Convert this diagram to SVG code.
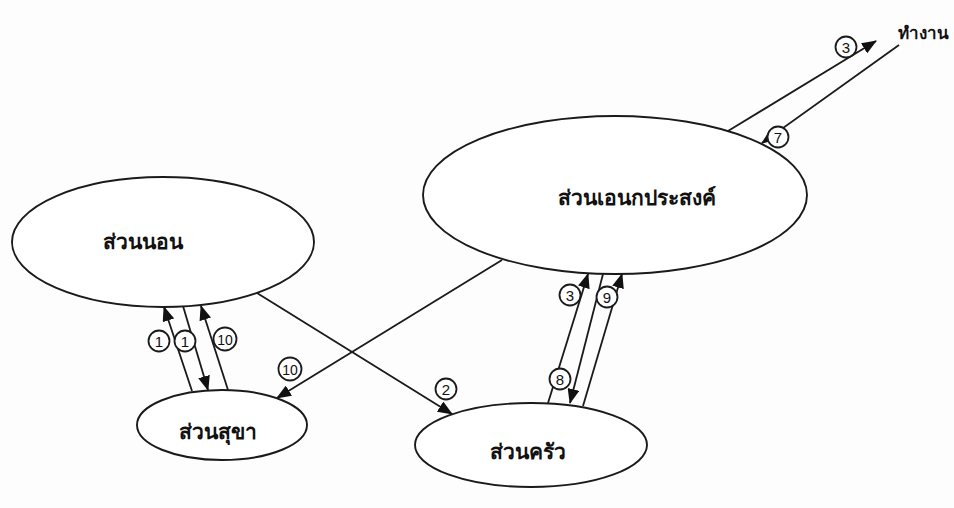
<svg xmlns="http://www.w3.org/2000/svg" width="954" height="508" viewBox="0 0 954 508">
<defs>
<style>
.node{fill:#fff;stroke:#1a1a1a;stroke-width:1.9}
.lbl{font-family:"Noto Sans","DejaVu Sans",sans-serif;font-weight:bold;fill:#111;text-anchor:middle}
.conn line{stroke:#1a1a1a;stroke-width:1.8;fill:none}
.num circle{fill:#fff;stroke:#1a1a1a;stroke-width:1.8}
.num text{font-family:"Liberation Sans",Arial,sans-serif;font-size:15px;fill:#111;text-anchor:middle}
</style>
<marker id="ah" viewBox="0 0 15 12" refX="14" refY="6" markerWidth="15" markerHeight="12" markerUnits="userSpaceOnUse" orient="auto">
<path d="M0,0 L15,6 L0,12 Z" fill="#111"/>
</marker>
</defs>
<rect width="954" height="508" fill="#fdfdfd"/>

<g id="connectors" class="conn">
<line x1="728" y1="131" x2="876" y2="41" marker-end="url(#ah)"/>
<line x1="899" y1="45" x2="762" y2="143" marker-end="url(#ah)"/>
<line x1="192" y1="391" x2="164" y2="307" marker-end="url(#ah)"/>
<line x1="183" y1="306" x2="208" y2="390" marker-end="url(#ah)"/>
<line x1="228" y1="390" x2="201" y2="306" marker-end="url(#ah)"/>
<line x1="257" y1="293" x2="452" y2="414" marker-end="url(#ah)"/>
<line x1="502" y1="260" x2="277" y2="398" marker-end="url(#ah)"/>
<line x1="548" y1="403" x2="588" y2="274" marker-end="url(#ah)"/>
<line x1="603" y1="274" x2="570" y2="403" marker-end="url(#ah)"/>
<line x1="583" y1="406" x2="622" y2="274" marker-end="url(#ah)"/>
</g>

<g id="node-sleep">
<ellipse class="node" cx="163" cy="242" rx="151" ry="65"/>
<text class="lbl" x="143" y="249" font-size="21">ส่วนนอน</text>
</g>
<g id="node-multi">
<ellipse class="node" cx="615" cy="195" rx="192" ry="79"/>
<text class="lbl" x="637" y="205" font-size="21">ส่วนเอนกประสงค์</text>
</g>
<g id="node-bath">
<ellipse class="node" cx="222" cy="425" rx="85" ry="35"/>
<text class="lbl" x="218" y="439" font-size="21">ส่วนสุขา</text>
</g>
<g id="node-kitchen">
<ellipse class="node" cx="531" cy="445" rx="116" ry="42"/>
<text class="lbl" x="528" y="459" font-size="21">ส่วนครัว</text>
</g>
<g id="node-work">
<text class="lbl" x="898" y="39" font-size="17" style="text-anchor:start">ทำงาน</text>
</g>

<g id="labels" class="num">
<g><circle cx="846" cy="47" r="10.5"/><text x="846" y="52.5">3</text></g>
<g><circle cx="778" cy="137" r="10.5"/><text x="778" y="142.5">7</text></g>
<g><circle cx="159" cy="341" r="10.5"/><text x="159" y="346.5">1</text></g>
<g><circle cx="185" cy="341" r="10.5"/><text x="185" y="346.5">1</text></g>
<g><circle cx="225" cy="339" r="11.5"/><text x="225" y="344.5" style="font-size:14px">10</text></g>
<g><circle cx="290" cy="369" r="11.5"/><text x="290" y="374.5" style="font-size:14px">10</text></g>
<g><circle cx="446" cy="389" r="10.5"/><text x="446" y="394.5">2</text></g>
<g><circle cx="570" cy="295" r="10.5"/><text x="570" y="300.5">3</text></g>
<g><circle cx="607" cy="297" r="10.5"/><text x="607" y="302.5">9</text></g>
<g><circle cx="560" cy="379" r="10.5"/><text x="560" y="384.5">8</text></g>
</g>
</svg>
